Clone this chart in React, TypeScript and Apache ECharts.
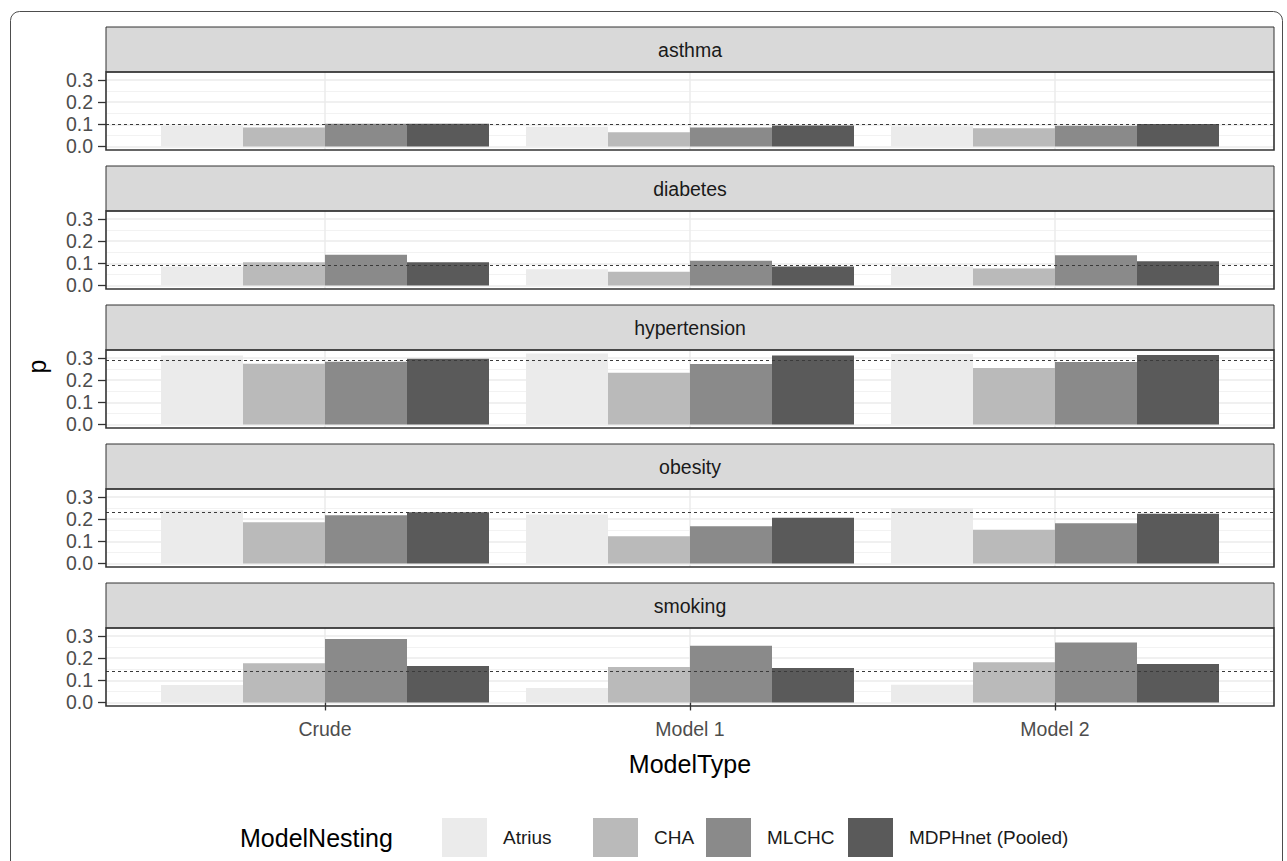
import React, { useEffect, useRef } from 'react';
import * as echarts from 'echarts';

// ---------- data ----------
const CONDITIONS = ['asthma', 'diabetes', 'hypertension', 'obesity', 'smoking'];
const MODEL_TYPES = ['Crude', 'Model 1', 'Model 2'];
const NESTINGS = ['Atrius', 'CHA', 'MLCHC', 'MDPHnet (Pooled)'];
const Y_TICKS = [0, 0.1, 0.2, 0.3];

// rows: Atrius, CHA, MLCHC, MDPHnet ; columns: Crude, Model 1, Model 2
const asthma = [
  [0.092, 0.089, 0.091],
  [0.086, 0.064, 0.082],
  [0.102, 0.086, 0.094],
  [0.102, 0.095, 0.101],
];
const diabetes = [
  [0.085, 0.073, 0.085],
  [0.105, 0.062, 0.077],
  [0.139, 0.112, 0.136],
  [0.105, 0.086, 0.109],
];
const hypertension = [
  [0.311, 0.320, 0.318],
  [0.274, 0.233, 0.255],
  [0.283, 0.273, 0.282],
  [0.296, 0.311, 0.314],
];
const obesity = [
  [0.240, 0.221, 0.250],
  [0.186, 0.123, 0.152],
  [0.218, 0.168, 0.182],
  [0.231, 0.206, 0.224],
];
const smoking = [
  [0.079, 0.065, 0.080],
  [0.177, 0.160, 0.182],
  [0.286, 0.256, 0.271],
  [0.165, 0.156, 0.174],
];
const VALUES = [asthma, diabetes, hypertension, obesity, smoking];
const REF_LINE = [0.097, 0.092, 0.292, 0.235, 0.135];

// ---------- style / layout ----------
const COLORS = ['#EBEBEB', '#BABABA', '#8A8A8A', '#5A5A5A'];
const FONT = '"Liberation Sans", Arial, Helvetica, sans-serif';
const PANEL_LEFT = 106;
const PANEL_RIGHT = 1274;
const PANEL_TOP0 = 72;
const PANEL_STEP = 139;
const PANEL_H = 78;
const STRIP_H = 45;
const Y_LO = -0.016;
const Y_HI = 0.336;
const Y_TOP_TICK = Y_TICKS[Y_TICKS.length - 1];
const LEGEND_LEFTS = [442, 593, 706, 848];

// discrete axis expanded by 0.6 units each side -> slots of 0.2 units
const SLOT_OFFSET = 3;
const SLOT_STEP = 5;
const N_SLOTS = SLOT_OFFSET * 2 + SLOT_STEP * (MODEL_TYPES.length - 1) + 1;
const slotLabel = (k: number) => {
  const j = (k - SLOT_OFFSET) / SLOT_STEP;
  return Number.isInteger(j) && j >= 0 && j < MODEL_TYPES.length ? MODEL_TYPES[j] : '';
};
const isSlot = (k: number) => slotLabel(k) !== '';
const SLOTS = Array.from({ length: N_SLOTS }, (_, k) => String(k));

function buildOption() {
  const grids: any[] = [];
  const xAxes: any[] = [];
  const yAxes: any[] = [];
  const series: any[] = [];
  const graphics: any[] = [];
  const nP = CONDITIONS.length;

  CONDITIONS.forEach((cond, i) => {
    const top = PANEL_TOP0 + PANEL_STEP * i;
    const isLast = i === nP - 1;
    grids.push({ left: PANEL_LEFT, width: PANEL_RIGHT - PANEL_LEFT, top, height: PANEL_H, show: false });
    xAxes.push({
      type: 'category',
      gridIndex: i,
      data: SLOTS,
      boundaryGap: false,
      axisLine: { show: false },
      axisTick: {
        show: isLast,
        interval: (k: number) => isSlot(k),
        length: 8,
        lineStyle: { color: '#333333', width: 1.3 },
      },
      axisLabel: {
        show: isLast,
        interval: (k: number) => isSlot(k),
        formatter: (_v: string, k: number) => slotLabel(k),
        color: '#4D4D4D',
        fontSize: 19.5,
        fontFamily: FONT,
        margin: 13,
      },
      splitLine: {
        show: true,
        interval: (k: number) => isSlot(k),
        lineStyle: { color: '#EBEBEB', width: 1.5 },
      },
      name: isLast ? 'ModelType' : '',
      nameLocation: 'middle',
      nameGap: 45,
      nameTextStyle: { fontSize: 25, color: '#000000', fontFamily: FONT },
    });
    yAxes.push({ type: 'value', gridIndex: i, min: Y_LO, max: Y_HI, show: false, splitLine: { show: false } });

    NESTINGS.forEach((nest, s) => {
      const data: any[] = SLOTS.map(() => '-');
      MODEL_TYPES.forEach((_, j) => {
        data[SLOT_OFFSET + SLOT_STEP * j] = VALUES[i][s][j];
      });
      const ser: any = {
        type: 'bar',
        name: nest,
        xAxisIndex: i,
        yAxisIndex: i,
        data,
        barWidth: 82,
        barGap: '0%',
        itemStyle: { color: COLORS[s] },
        emphasis: { disabled: true },
        silent: true,
      };
      if (s === NESTINGS.length - 1) {
        ser.markLine = {
          silent: true,
          symbol: ['none', 'none'],
          label: { show: false },
          lineStyle: { color: '#3A3A3A', type: [3, 3], width: 1.1 },
          data: [{ yAxis: REF_LINE[i] }],
        };
      }
      series.push(ser);
    });

    graphics.push({
      type: 'rect',
      shape: { x: PANEL_LEFT, y: top - STRIP_H, width: PANEL_RIGHT - PANEL_LEFT, height: STRIP_H },
      style: { fill: '#D9D9D9', stroke: '#333333', lineWidth: 1 },
      z: 5,
    });
    graphics.push({
      type: 'text',
      x: (PANEL_LEFT + PANEL_RIGHT) / 2,
      y: top - STRIP_H / 2,
      style: { text: cond, fontSize: 19.5, fontFamily: FONT, fill: '#1A1A1A', align: 'center', verticalAlign: 'middle' },
      z: 6,
    });
    graphics.push({
      type: 'rect',
      shape: { x: PANEL_LEFT, y: top, width: PANEL_RIGHT - PANEL_LEFT, height: PANEL_H },
      style: { fill: 'none', stroke: '#333333', lineWidth: 1.6 },
      z: 100,
    });
  });

  CONDITIONS.forEach((_, i) => {
    const top = PANEL_TOP0 + PANEL_STEP * i;
    const gTop = top + ((Y_HI - Y_TOP_TICK) / (Y_HI - Y_LO)) * PANEL_H;
    const gH = ((Y_TOP_TICK - 0) / (Y_HI - Y_LO)) * PANEL_H;
    const gi = nP + i;
    grids.push({ left: PANEL_LEFT, width: PANEL_RIGHT - PANEL_LEFT, top: gTop, height: gH, show: false });
    xAxes.push({ type: 'value', gridIndex: gi, min: 0, max: 1, show: false });
    yAxes.push({
      type: 'value',
      gridIndex: gi,
      min: Y_TICKS[0],
      max: Y_TOP_TICK,
      interval: Y_TICKS[1] - Y_TICKS[0],
      axisLine: { show: false },
      axisTick: { show: true, length: 8, lineStyle: { color: '#333333', width: 1.3 } },
      axisLabel: {
        color: '#4D4D4D',
        fontSize: 19.5,
        fontFamily: FONT,
        margin: 13,
        formatter: (v: number) => v.toFixed(1),
      },
      splitLine: { show: true, lineStyle: { color: '#EBEBEB', width: 1.5 } },
      minorTick: { show: false, splitNumber: 2 },
      minorSplitLine: { show: true, lineStyle: { color: '#F2F2F2', width: 1 } },
    });
  });

  graphics.push({
    type: 'rect',
    shape: { x: 10.5, y: 11.5, width: 1272, height: 880, r: 9 },
    style: { fill: 'none', stroke: '#4D4D4D', lineWidth: 1 },
    z: 1,
  });
  graphics.push({
    type: 'text',
    x: 37,
    y: PANEL_TOP0 - STRIP_H + (PANEL_STEP * (nP - 1) + PANEL_H + STRIP_H) / 2,
    rotation: Math.PI / 2,
    style: { text: 'p', fontSize: 25, fontFamily: FONT, fill: '#000000', align: 'center', verticalAlign: 'middle' },
  });
  graphics.push({
    type: 'text',
    x: 240,
    y: 838,
    style: { text: 'ModelNesting', fontSize: 25, fontFamily: FONT, fill: '#000000', align: 'left', verticalAlign: 'middle' },
  });

  const legends = NESTINGS.map((n, s) => ({
    data: [n],
    left: LEGEND_LEFTS[s],
    top: 818,
    padding: 0,
    itemWidth: 45,
    itemHeight: 39,
    icon: 'rect',
    selectedMode: false,
    textStyle: { fontSize: 19, color: '#1A1A1A', fontFamily: FONT, padding: [0, 0, 0, 11] },
  }));

  return {
    animation: false,
    backgroundColor: '#FFFFFF',
    grid: grids,
    xAxis: xAxes,
    yAxis: yAxes,
    series,
    graphic: graphics,
    legend: legends,
  };
}

export default function App() {
  const ref = useRef<HTMLDivElement>(null);
  useEffect(() => {
    if (!ref.current) return;
    const chart = echarts.init(ref.current, undefined, { renderer: 'svg' });
    chart.setOption(buildOption() as any);
    return () => chart.dispose();
  }, []);
  return <div ref={ref} style={{ position: 'fixed', left: 0, top: 0, width: 1287, height: 861 }} />;
}
